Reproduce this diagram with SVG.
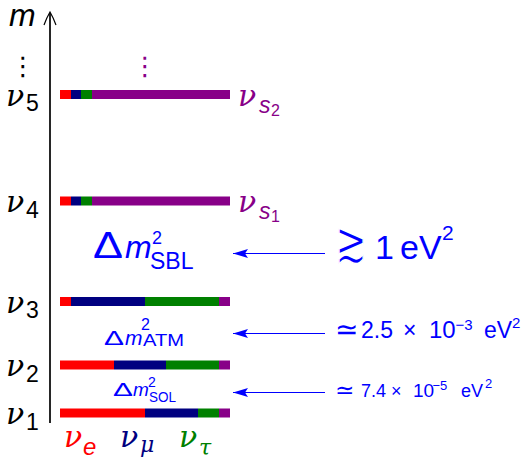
<svg xmlns="http://www.w3.org/2000/svg" width="527" height="461" viewBox="0 0 527 461">
<style>
.nu{font-family:"DejaVu Serif","Liberation Serif",serif;font-style:italic;font-size:30px}
.sub{font-family:"Liberation Sans",Arial,sans-serif;font-size:23px}
.ss{font-family:"Liberation Sans",Arial,sans-serif;font-size:16px}
.si{font-family:"Liberation Sans",Arial,sans-serif;font-style:italic}
.sans{font-family:"Liberation Sans",Arial,sans-serif}
.sym{font-family:"DejaVu Sans",sans-serif}
.blue{fill:#0000ff}
.pur{fill:#880088}
.r{fill:#ff0000}.n{fill:#000080}.g{fill:#008000}.p{fill:#880088}
.arr{stroke:#0000ff;stroke-width:1.2;fill:none}
</style>
<defs>
<marker id="ah" markerUnits="userSpaceOnUse" markerWidth="20" markerHeight="12" viewBox="-16 -6 20 12" refX="0" refY="0" orient="auto" overflow="visible">
<path d="M-15,-4.5 L0,0 L-15,4.5 L-12,0 Z" fill="#0000ff"/>
</marker>
</defs>
<g id="axis">
<line x1="50" y1="423" x2="50" y2="13" stroke="#000" stroke-width="1.7"/>
<path d="M44,25 Q47,17 50,12 Q53,17 56,25" stroke="#000" stroke-width="1.2" fill="none"/>
<text x="9" y="25.5" class="si" font-size="32">m</text>
<text x="23" y="75" class="sym" font-size="26" text-anchor="middle">⋮</text>
<text x="145" y="75" class="sym pur" font-size="26" text-anchor="middle">⋮</text>
</g>
<g id="nu5">
<rect x="60" y="90" width="11" height="9" class="r"/><rect x="71" y="90" width="10" height="9" class="n"/><rect x="81" y="90" width="11" height="9" class="g"/><rect x="92" y="90" width="138" height="9" class="p"/>
<text x="6" y="105.5" class="nu">ν</text><text x="26" y="111" class="sub">5</text>
<text x="238" y="105.5" class="nu pur">ν</text><text x="259" y="112.5" class="si pur" font-size="23">s</text><text x="271" y="115.5" class="ss pur">2</text>
</g>
<g id="nu4">
<rect x="60" y="196.5" width="11" height="9" class="r"/><rect x="71" y="196.5" width="10" height="9" class="n"/><rect x="81" y="196.5" width="11" height="9" class="g"/><rect x="92" y="196.5" width="138" height="9" class="p"/>
<text x="6" y="212" class="nu">ν</text><text x="26" y="217.5" class="sub">4</text>
<text x="238" y="212" class="nu pur">ν</text><text x="259" y="219" class="si pur" font-size="23">s</text><text x="271" y="222" class="ss pur">1</text>
</g>
<g id="nu3">
<rect x="60" y="297" width="11" height="9" class="r"/><rect x="71" y="297" width="74" height="9" class="n"/><rect x="145" y="297" width="74" height="9" class="g"/><rect x="219" y="297" width="11" height="9" class="p"/>
<text x="6" y="312.5" class="nu">ν</text><text x="26" y="318" class="sub">3</text>
</g>
<g id="nu2">
<rect x="60" y="360.5" width="54" height="9" class="r"/><rect x="114" y="360.5" width="52" height="9" class="n"/><rect x="166" y="360.5" width="53" height="9" class="g"/><rect x="219" y="360.5" width="11" height="9" class="p"/>
<text x="6" y="376" class="nu">ν</text><text x="26" y="381.5" class="sub">2</text>
</g>
<g id="nu1">
<rect x="60" y="408.5" width="85" height="9" class="r"/><rect x="145" y="408.5" width="53" height="9" class="n"/><rect x="198" y="408.5" width="21" height="9" class="g"/><rect x="219" y="408.5" width="11" height="9" class="p"/>
<text x="6" y="424" class="nu">ν</text><text x="26" y="429.5" class="sub">1</text>
</g>
<g id="flavours">
<text x="64" y="447" class="nu r">ν</text><text x="83" y="455" class="si r" font-size="24">e</text>
<text x="120" y="447" class="nu n">ν</text><text x="140" y="452" class="n" font-family="DejaVu Serif, serif" font-style="italic" font-size="22">μ</text>
<text x="179" y="447" class="nu g">ν</text><text x="199" y="455" class="g" font-family="DejaVu Serif, serif" font-style="italic" font-size="22">τ</text>
</g>
<g id="sbl" class="blue">
<text x="93" y="258" class="sans" font-size="36" textLength="30" lengthAdjust="spacingAndGlyphs">Δ</text>
<text x="125" y="258" class="si" font-size="32">m</text>
<text x="152" y="244" class="sans" font-size="18">2</text>
<text x="150" y="269" class="sans" font-size="23">SBL</text>
<text transform="translate(335,262) scale(1.12,1.7)" class="sym" font-size="34" stroke="#fff" stroke-width="1.3" vector-effect="non-scaling-stroke">≳</text>
<text x="375" y="259" class="sans" font-size="34">1</text>
<text x="400" y="259" class="sans" font-size="34">eV</text>
<text x="442" y="240" class="sans" font-size="21">2</text>
</g>
<g id="atm" class="blue">
<text x="104" y="345" class="sans" font-size="21" textLength="20" lengthAdjust="spacingAndGlyphs">Δ</text>
<text x="125" y="345" class="si" font-size="21">m</text>
<text x="141" y="330" class="sans" font-size="16">2</text>
<text x="143" y="346" class="sans" font-size="17" textLength="41" lengthAdjust="spacingAndGlyphs">ATM</text>
<text x="335" y="339" class="sym" font-size="28">≃</text>
<text x="361" y="338" class="sans" font-size="23">2.5</text>
<text x="403" y="338" class="sans" font-size="23">×</text>
<text x="429" y="338" class="sans" font-size="24">10</text>
<text x="455.5" y="330" class="sans" font-size="15">−3</text>
<text x="484" y="338" class="sans" font-size="23">eV</text>
<text x="512" y="328" class="sans" font-size="15">2</text>
</g>
<g id="sol" class="blue">
<text x="113" y="396" class="sans" font-size="19" textLength="20" lengthAdjust="spacingAndGlyphs">Δ</text>
<text x="133" y="396" class="si" font-size="19">m</text>
<text x="148" y="386.5" class="sans" font-size="14">2</text>
<text x="149" y="402" class="sans" font-size="15" textLength="27" lengthAdjust="spacingAndGlyphs">SOL</text>
<text x="335" y="398" class="sym" font-size="23">≃</text>
<text x="361" y="397" class="sans" font-size="18">7.4</text>
<text x="391" y="397" class="sans" font-size="18">×</text>
<text x="413" y="397" class="sans" font-size="19">10</text>
<text x="432.5" y="390" class="sans" font-size="13">−5</text>
<text x="461" y="397" class="sans" font-size="18">eV</text>
<text x="485" y="388" class="sans" font-size="13">2</text>
</g>
<g id="connectors">
<line x1="325" y1="253.5" x2="233" y2="253.5" class="arr" marker-end="url(#ah)"/>
<line x1="325" y1="333.5" x2="233" y2="333.5" class="arr" marker-end="url(#ah)"/>
<line x1="325" y1="392.5" x2="233" y2="392.5" class="arr" marker-end="url(#ah)"/>
</g>
</svg>
